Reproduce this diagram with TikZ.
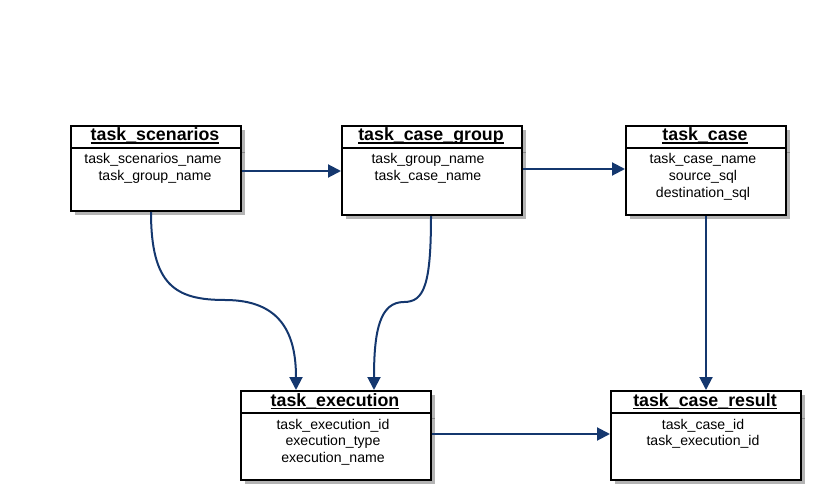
\documentclass[tikz,border=0pt]{standalone}
\usepackage{fontspec}
\setmainfont{Liberation Sans}
\usetikzlibrary{arrows.meta,calc}
\definecolor{conncol}{RGB}{20,55,110}
\definecolor{shadowcol}{RGB}{180,180,180}
\definecolor{shadowline}{RGB}{135,135,135}
\newcommand\entul[1]{\setbox0\hbox{#1}\rlap{\rule[-3.2pt]{\wd0}{1.3pt}}\box0}
\tikzset{
  x=1pt, y=-1pt,
  entity/.style={draw=black, line width=2pt, fill=white, anchor=north west, inner sep=0pt, minimum width=#1, minimum height=89pt},
  title/.style={anchor=base, inner sep=0pt, font=\bfseries\fontsize{17.8}{20}\selectfont},
  attr/.style={anchor=base, inner sep=0pt, font=\fontsize{14.1}{16}\selectfont},
  conn/.style={draw=conncol, line width=2pt, -{Triangle[length=13pt,width=13pt]}},
}
\begin{document}
\begin{tikzpicture}
\useasboundingbox (0,0) rectangle (822,500);
% shadows
\fill[shadowcol] (75,130) rectangle (245,215);
\fill[shadowcol] (346,130) rectangle (526,219);
\fill[shadowcol] (630,130) rectangle (790,219);
\fill[shadowcol] (245,395) rectangle (435,484);
\fill[shadowcol] (615,395) rectangle (805,484);
\draw[shadowline, line width=1pt] (241,153) -- (245,153);
\draw[shadowline, line width=1pt] (522,153) -- (526,153);
\draw[shadowline, line width=1pt] (786,153) -- (790,153);
\draw[shadowline, line width=1pt] (431,418) -- (435,418);
\draw[shadowline, line width=1pt] (801,418) -- (805,418);
% boxes
\node[entity=170pt, minimum height=85pt] (ts) at (70,125) {};
\node[entity=180pt] (tcg) at (341,125) {};
\node[entity=160pt] (tc) at (625,125) {};
\node[entity=190pt] (te) at (240,390) {};
\node[entity=190pt] (tcr) at (610,390) {};
% header separators
\draw[line width=2pt] (ts.west |- 0,148) -- (ts.east |- 0,148);
\draw[line width=2pt] (tcg.west |- 0,148) -- (tcg.east |- 0,148);
\draw[line width=2pt] (tc.west |- 0,148) -- (tc.east |- 0,148);
\draw[line width=2pt] (te.west |- 0,413) -- (te.east |- 0,413);
\draw[line width=2pt] (tcr.west |- 0,413) -- (tcr.east |- 0,413);
% titles
\node[title] (tst) at (155,140.5) {\entul{task\_scenarios}};
\node[title] (tcgt) at (431,140.5) {\entul{task\_case\_group}};
\node[title] (tct) at (705,140.5) {\entul{task\_case}};
\node[title] (tet) at (335,406) {\entul{task\_execution}};
\node[title] (tcrt) at (705,406) {\entul{task\_case\_result}};
% attributes
\node[attr] (ts1) at (153,164) {task\_scenarios\_name};
\node[attr] (ts2) at (155,180.5) {task\_group\_name};
\node[attr] (tcg1) at (428,164) {task\_group\_name};
\node[attr] (tcg2) at (428,180.5) {task\_case\_name};
\node[attr] (tc1) at (703,164) {task\_case\_name};
\node[attr] (tc2) at (703,180.5) {source\_sql};
\node[attr] (tc3) at (703,197) {destination\_sql};
\node[attr] (te1) at (333,429) {task\_execution\_id};
\node[attr] (te2) at (333,445.5) {execution\_type};
\node[attr] (te3) at (333,462) {execution\_name};
\node[attr] (tcr1) at (703,429) {task\_case\_id};
\node[attr] (tcr2) at (703,445.5) {task\_execution\_id};
% connectors
\draw[conn] (ts.east |- 0,171) -- (tcg.west |- 0,171);
\draw[conn] (tcg.east |- 0,169) -- (tc.west |- 0,169);
\draw[conn] (tc.south) -- (tcr.north);
\draw[conn] (te.east |- 0,434) -- (tcr.west |- 0,434);
\draw[conn] (ts.south -| 151,0) .. controls (151,285) and (175,300) .. (225,300)
  .. controls (282,300) and (296,335) .. (te.north -| 296,0);
\draw[conn] (tcg.south -| 431,0) .. controls (431,285) and (424,302) .. (404,302)
  .. controls (380,302) and (374,330) .. (te.north -| 374,0);
\end{tikzpicture}
\end{document}
